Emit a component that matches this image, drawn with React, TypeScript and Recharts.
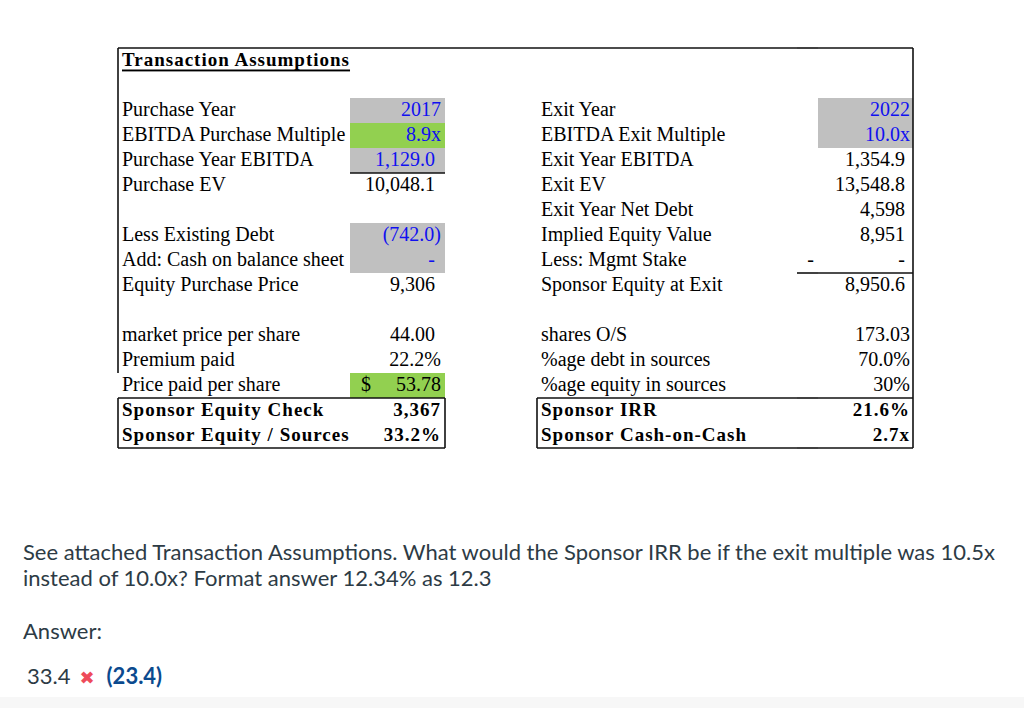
import React from 'react';
import { Bar, BarChart, XAxis, YAxis } from 'recharts';

// sheet contents, one entry per spreadsheet row
const leftLabels = [
  'Transaction Assumptions', '', 'Purchase Year', 'EBITDA Purchase Multiple', 'Purchase Year EBITDA',
  'Purchase EV', '', 'Less Existing Debt', 'Add: Cash on balance sheet', 'Equity Purchase Price', '',
  'market price per share', 'Premium paid', 'Price paid per share', 'Sponsor Equity Check', 'Sponsor Equity / Sources',
];
const leftValues = [
  '', '', '2017', '8.9x', '1,129.0', '10,048.1', '', '(742.0)', '-', '9,306', '',
  '44.00', '22.2%', '53.78', '3,367', '33.2%',
];
const rightLabels = [
  '', '', 'Exit Year', 'EBITDA Exit Multiple', 'Exit Year EBITDA', 'Exit EV', 'Exit Year Net Debt',
  'Implied Equity Value', 'Less: Mgmt Stake', 'Sponsor Equity at Exit', '', 'shares O/S',
  '%age debt in sources', '%age equity in sources', 'Sponsor IRR', 'Sponsor Cash-on-Cash',
];
const rightMidValues = ['', '', '', '', '', '', '', '', '-', '', '', '', '', '', '', ''];
const rightValues = [
  '', '', '2022', '10.0x', '1,354.9', '13,548.8', '4,598', '8,951', '-', '8,950.6', '',
  '173.03', '70.0%', '30%', '21.6%', '2.7x',
];

// cell formats
const inputLeft = [2, 3, 4, 7, 8];
const inputRight = [2, 3];
const grayLeft = [2, 4, 7, 8];
const greenLeft = [3, 13];
const grayRight = [2, 3];
const paddedLeft = [4, 5, 8, 9, 11];
const paddedRight = [4, 5, 6, 7, 8, 9];
const boldRows = [14, 15];
const dollarRows = [13];

const GRAY = '#c0c0c0';
const GREEN = '#92d050';
const BLUE = '#1010f0';
const SERIF = '"Liberation Serif", "Times New Roman", serif';

// column edges (px, x axis runs 0..1024)
const COLS: Record<string, [number, number]> = {
  LL: [118, 350],
  LV: [350, 445],
  GAP: [445, 537],
  RL: [537, 797],
  RM: [797, 818],
  RV: [818, 913],
};

type Borders = { t?: number[]; b?: number[]; l?: number[]; r?: number[] };
const BORDERS: Record<string, Borders> = {
  LL: { t: [0, 14], b: [15], l: [0, 1, 2, 3, 4, 5, 6, 7, 8, 9, 10, 11, 12, 14, 15] },
  LV: { t: [0, 5, 14], b: [15], r: [14, 15] },
  GAP: { t: [0] },
  RL: { t: [0, 14], b: [15], l: [14, 15] },
  RM: { t: [0, 14], b: [8, 15] },
  RV: { t: [0, 14], b: [8, 15], r: [0, 1, 2, 3, 4, 5, 6, 7, 8, 9, 10, 11, 12, 13, 14, 15] },
};

const data = leftLabels.map((_, i) => ({ row: i }));

function textProps(bold: boolean) {
  return {
    fontFamily: SERIF,
    fontSize: bold ? 19 : 20,
    fontWeight: bold ? 700 : 400,
    letterSpacing: bold ? 1 : 0,
    dominantBaseline: 'central' as const,
  };
}

function makeShape(col: string) {
  return (p: any) => {
    const { x, y, width: w, height: h } = p;
    const i: number = p.index ?? p.payload?.row ?? 0;
    const cy = y + h / 2 - 1.5;
    const bold = boldRows.includes(i);
    const parts: React.ReactNode[] = [];

    let fill = '';
    if (col === 'LV') fill = greenLeft.includes(i) ? GREEN : grayLeft.includes(i) ? GRAY : '';
    if (col === 'RV') fill = grayRight.includes(i) ? GRAY : '';
    if (fill) parts.push(<rect key="f" x={x} y={y} width={w} height={h} fill={fill} />);

    if (col === 'LL' && leftLabels[i]) {
      if (i === 0) {
        parts.push(
          <text key="t" x={x + 4} y={cy} {...textProps(true)} fill="#000" style={{ textDecoration: 'underline' }}>
            {leftLabels[i]}
          </text>
        );
      } else {
        parts.push(
          <text key="t" x={x + 4} y={cy} {...textProps(bold)} fill="#000">
            {leftLabels[i]}
          </text>
        );
      }
    }
    if (col === 'RL' && rightLabels[i]) {
      parts.push(
        <text key="t" x={x + 4} y={cy} {...textProps(bold)} fill="#000">
          {rightLabels[i]}
        </text>
      );
    }
    if (col === 'LV' && leftValues[i]) {
      const end = x + w - (paddedLeft.includes(i) ? 10 : 4);
      parts.push(
        <text key="v" x={end} y={cy} textAnchor="end" {...textProps(bold)} fill={inputLeft.includes(i) ? BLUE : '#000'}>
          {leftValues[i]}
        </text>
      );
      if (dollarRows.includes(i)) {
        parts.push(
          <text key="d" x={x + 11} y={cy} {...textProps(false)} fill="#000">
            $
          </text>
        );
      }
    }
    if (col === 'RM' && rightMidValues[i]) {
      parts.push(
        <text key="v" x={x + w - 4} y={cy} textAnchor="end" {...textProps(false)} fill="#000">
          {rightMidValues[i]}
        </text>
      );
    }
    if (col === 'RV' && rightValues[i]) {
      const end = x + w - (paddedRight.includes(i) ? 8 : 3);
      parts.push(
        <text key="v" x={end} y={cy} textAnchor="end" {...textProps(bold)} fill={inputRight.includes(i) ? BLUE : '#000'}>
          {rightValues[i]}
        </text>
      );
    }

    const b = BORDERS[col];
    const line = { stroke: '#111', strokeWidth: 1.6 };
    if (b.t?.includes(i)) parts.push(<line key="bt" x1={x} x2={x + w} y1={y} y2={y} {...line} />);
    if (b.b?.includes(i)) parts.push(<line key="bb" x1={x} x2={x + w} y1={y + h} y2={y + h} {...line} />);
    if (b.l?.includes(i)) parts.push(<line key="bl" x1={x} x2={x} y1={y} y2={y + h} {...line} />);
    if (b.r?.includes(i)) parts.push(<line key="br" x1={x + w} x2={x + w} y1={y} y2={y + h} {...line} />);

    return <g>{parts}</g>;
  };
}

const colKeys = Object.keys(COLS);

export default function App() {
  return (
    <div style={{ position: 'absolute', left: 0, top: 0, width: 1024, height: 708, background: '#fff', overflow: 'hidden' }}>
      <BarChart
        width={1024}
        height={460}
        data={data}
        layout="vertical"
        margin={{ top: 48, right: 0, bottom: 12, left: 0 }}
        barCategoryGap={0}
        barGap={0}
      >
        <XAxis type="number" domain={[0, 1024]} hide allowDataOverflow />
        {colKeys.map((c) => (
          <YAxis key={c} yAxisId={c} type="category" dataKey="row" hide />
        ))}
        {colKeys.map((c) => (
          <Bar
            key={c}
            yAxisId={c}
            dataKey={() => COLS[c]}
            isAnimationActive={false}
            shape={makeShape(c)}
          />
        ))}
      </BarChart>
      <div
        style={{
          position: 'absolute',
          left: 23,
          top: 539,
          width: 985,
          fontFamily: 'Lato, sans-serif',
          fontSize: 22,
          lineHeight: '26px',
          color: '#2d3b45',
        }}
      >
        See attached Transaction Assumptions. What would the Sponsor IRR be if the exit multiple was 10.5x instead of
        10.0x? Format answer 12.34% as 12.3
      </div>
      <div
        style={{
          position: 'absolute',
          left: 23,
          top: 617,
          fontFamily: 'Lato, sans-serif',
          fontSize: 22,
          lineHeight: '28px',
          color: '#2d3b45',
        }}
      >
        Answer:
      </div>
      <div
        style={{
          position: 'absolute',
          left: 27,
          top: 662,
          fontFamily: 'Lato, sans-serif',
          fontSize: 22,
          lineHeight: '28px',
          color: '#2d3b45',
          whiteSpace: 'pre',
        }}
      >
        33.4
        <span style={{ color: '#ee4b5a', fontFamily: '"DejaVu Sans", sans-serif', fontSize: 18, marginLeft: 9 }}>✖</span>
        <span style={{ color: '#0b4a8e', fontWeight: 700, marginLeft: 12 }}>(23.4)</span>
      </div>
      <div style={{ position: 'absolute', left: 0, top: 697, width: 1024, height: 11, background: '#f7f7f7' }} />
    </div>
  );
}
